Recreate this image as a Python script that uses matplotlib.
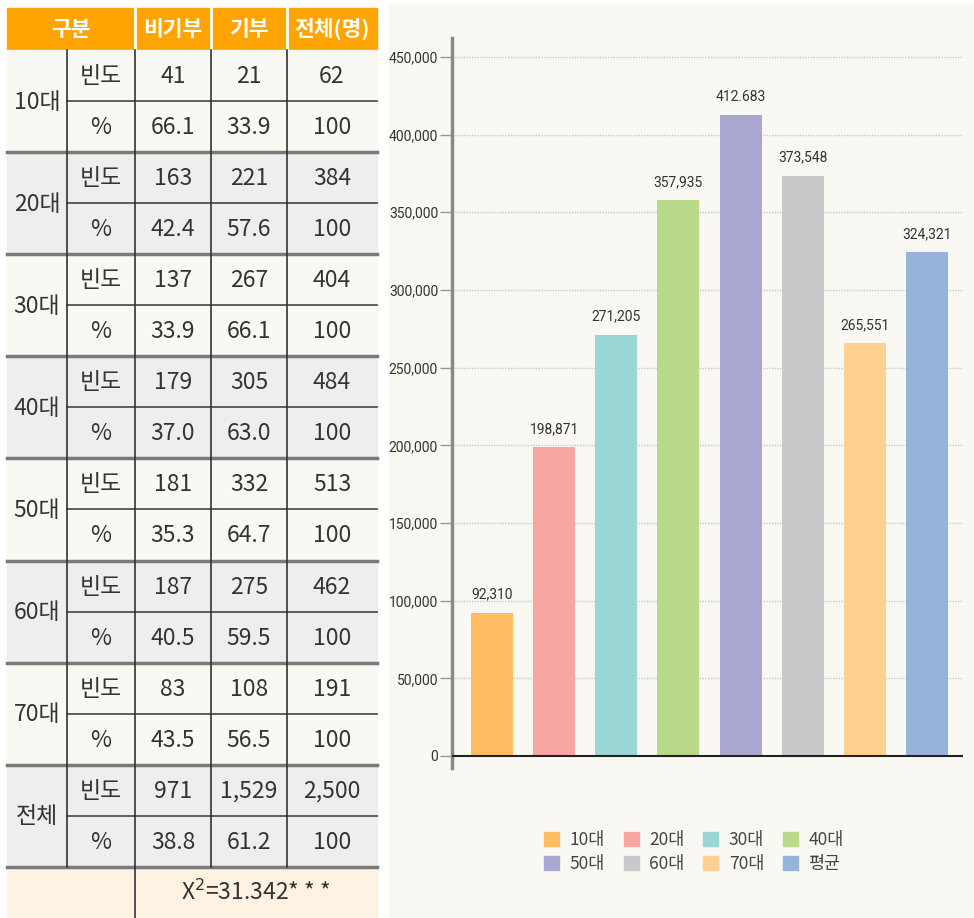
import matplotlib.pyplot as plt
from matplotlib.patches import Rectangle, Patch

plt.rcParams['font.family'] = ['Noto Sans CJK KR', 'DejaVu Sans']

# table data
ages = ['10대', '20대', '30대', '40대', '50대', '60대', '70대', '전체']
header = ['구분', '비기부', '기부', '전체(명)']
freq = [['41', '21', '62'], ['163', '221', '384'], ['137', '267', '404'],
        ['179', '305', '484'], ['181', '332', '513'], ['187', '275', '462'],
        ['83', '108', '191'], ['971', '1,529', '2,500']]
pct = [['66.1', '33.9', '100'], ['42.4', '57.6', '100'], ['33.9', '66.1', '100'],
       ['37.0', '63.0', '100'], ['35.3', '64.7', '100'], ['40.5', '59.5', '100'],
       ['43.5', '56.5', '100'], ['38.8', '61.2', '100']]
chi_text = 'X$^{2}$=31.342* * *'

# bar chart data
bar_names = ['10대', '20대', '30대', '40대', '50대', '60대', '70대', '평균']
bar_values = [92310, 198871, 271205, 357935, 412683, 373548, 265551, 324321]
bar_labels = ['92,310', '198,871', '271,205', '357,935', '412.683', '373,548', '265,551', '324,321']
bar_colors = ['#FFBC62', '#F7A6A2', '#9AD6D3', '#B8DA8A', '#AAA8D3', '#C8C9CB', '#FFD08F', '#96B4DA']

W, H = 974, 918
fig = plt.figure(figsize=(W / 100, H / 100), dpi=100, facecolor='white')

# background / table axes in pixel coords
bg = fig.add_axes([0, 0, 1, 1])
bg.set_xlim(0, W)
bg.set_ylim(H, 0)
bg.axis('off')

bg.add_patch(Rectangle((389, 5), W - 389, H - 5, color='#F9F8F2', zorder=0))

cols = [7, 67, 135, 211, 287, 377]
top, head_h, grp_h = 8, 42, 102.1
txt = '#333333'
fs = 16.5

# header
bg.add_patch(Rectangle((cols[0], top), cols[-1] - cols[0], head_h, color='#FFA402', zorder=1))
for x in cols[2:5]:
    bg.plot([x, x], [top, top + head_h], color='white', lw=2, zorder=2)
hy = top + head_h / 2
bg.text((cols[0] + cols[2]) / 2, hy, header[0], color='white', fontsize=15.5, fontweight='bold', ha='center', va='center')
for i in range(3):
    bg.text((cols[i + 2] + cols[i + 3]) / 2, hy, header[i + 1], color='white', fontsize=15.5,
            fontweight='bold', ha='center', va='center')

y0 = top + head_h
for g, age in enumerate(ages):
    gy = y0 + g * grp_h
    fill = '#F9F8F2' if g % 2 == 0 else '#EEEEEE'
    bg.add_patch(Rectangle((cols[0], gy), cols[-1] - cols[0], grp_h, color=fill, zorder=1))
    bg.text((cols[0] + cols[1]) / 2, gy + grp_h / 2 + 1, age, color=txt, fontsize=fs,
            ha='center', va='center')
    for r, (lab, vals) in enumerate([('빈도', freq[g]), ('%', pct[g])]):
        cy = gy + grp_h / 4 + r * grp_h / 2 + 1
        bg.text((cols[1] + cols[2]) / 2, cy, lab, color=txt, fontsize=fs, ha='center', va='center')
        for i, v in enumerate(vals):
            bg.text((cols[i + 2] + cols[i + 3]) / 2, cy, v, color=txt, fontsize=fs,
                    ha='center', va='center')
    # inner line
    bg.plot([cols[1], cols[-1]], [gy + grp_h / 2] * 2, color='#444444', lw=1.2, zorder=3)
    # group separator
    bg.plot([cols[0], cols[-1]], [gy + grp_h] * 2, color='#7A7A7A', lw=2.5, zorder=3)

body_end = y0 + len(ages) * grp_h
for x in cols[1:5]:
    bg.plot([x, x], [y0, body_end], color='#333333', lw=1.2, zorder=3)

# chi-square row
bg.add_patch(Rectangle((cols[0], body_end), cols[-1] - cols[0], H - body_end, color='#FEF2E3', zorder=1))
bg.plot([cols[2], cols[2]], [body_end, H], color='#333333', lw=1.2, zorder=3)
bg.text((cols[2] + cols[-1]) / 2, (body_end + H) / 2, chi_text, color=txt, fontsize=fs,
        ha='center', va='center')

# bar chart
narrow = dict(family=['Roboto', 'DejaVu Sans'])
ax = fig.add_axes([452 / W, 1 - 768 / H, 511 / W, 730 / H])
ax.set_facecolor('none')
x = list(range(len(bar_names)))
ax.bar(x, bar_values, width=0.675, color=bar_colors, zorder=2)
ax.set_xlim(-0.643, 7.58)
ax.set_ylim(-7725, 462200)
yt = list(range(0, 450001, 50000))
ax.set_yticks(yt)
ax.set_yticklabels([f'{v:,}' for v in yt], fontsize=10, color='#333333', **narrow)
ax.tick_params(axis='y', length=9, width=1, color='#999999', pad=1)
ax.set_xticks([])
for v in yt[1:]:
    ax.axhline(v, color='#C8C8C8', lw=1, ls=(0, (1, 1)), zorder=1)
ax.axhline(0, color='#222222', lw=1.5, zorder=3)
for s in ['top', 'right', 'bottom']:
    ax.spines[s].set_visible(False)
ax.spines['left'].set_color('#888888')
ax.spines['left'].set_linewidth(2.5)

for xi, v, lab in zip(x, bar_values, bar_labels):
    ax.annotate(lab, (xi, v), xytext=(0, 8), textcoords='offset points', ha='center', va='bottom',
                fontsize=10, color='#333333', **narrow)

handles = [Patch(color=c, label=n) for c, n in zip(bar_colors, bar_names)]
order = [0, 4, 1, 5, 2, 6, 3, 7]
leg = fig.legend([handles[i] for i in order], [bar_names[i] for i in order], ncol=4,
                 loc='center', bbox_to_anchor=(694 / W, 1 - 852 / H), frameon=False,
                 prop=dict(size=12.5), handlelength=0.85, handleheight=0.85,
                 columnspacing=1.1, handletextpad=0.6, labelspacing=0.35)
for t in leg.get_texts():
    t.set_color('#444444')

fig.savefig('out.png', dpi=100, facecolor='white')
